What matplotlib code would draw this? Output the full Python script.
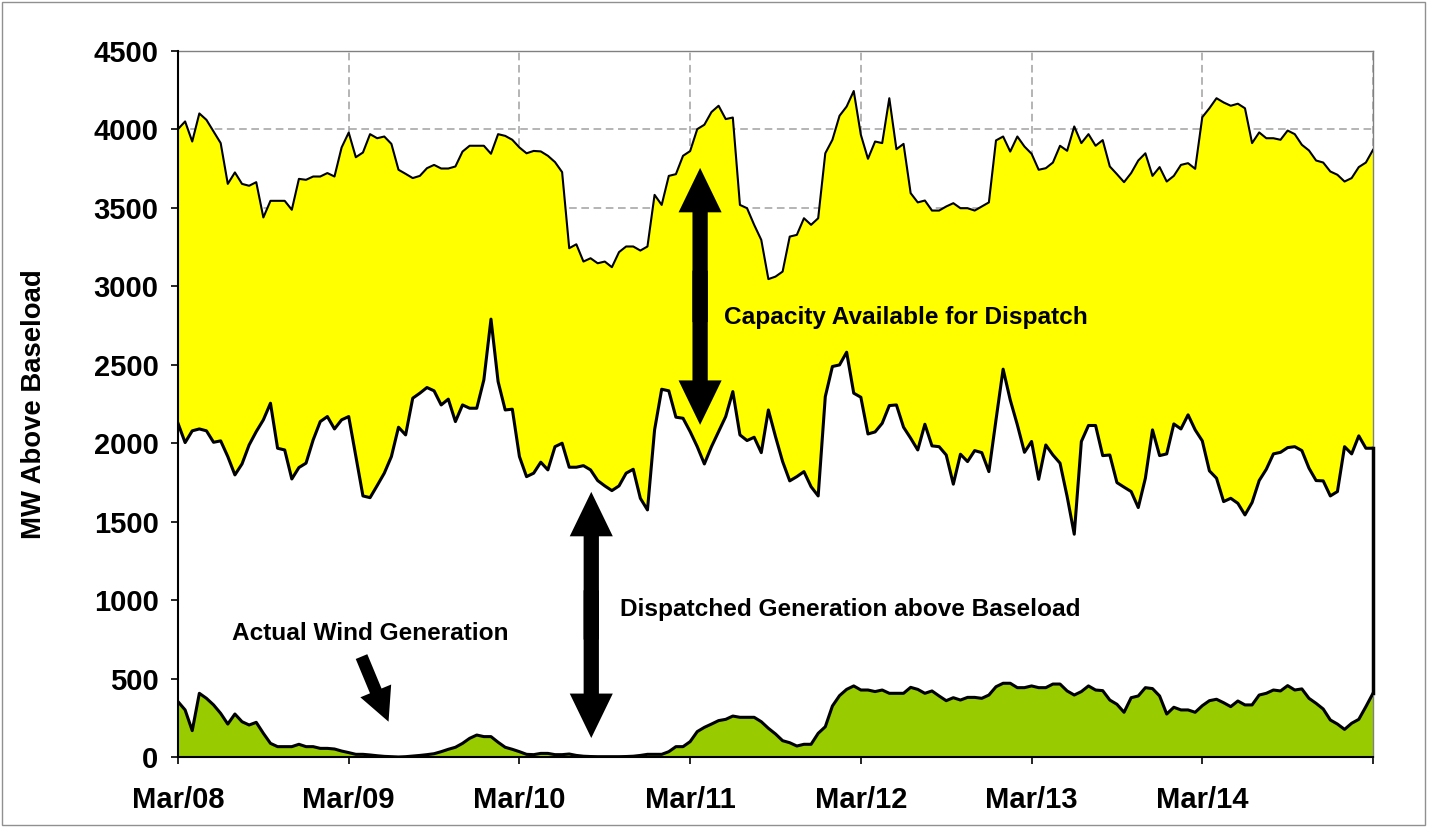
import numpy as np
import matplotlib
matplotlib.use("Agg")
import matplotlib.pyplot as plt
from matplotlib.patches import Rectangle


# hourly values, Mar/08 00:00 .. Mar/15 00:00 (MW above baseload)
upper_capacity = [
    4002, 4051, 3923, 4102, 4061, 3987, 3913, 3653, 3726, 3653, 3641, 3664,
    3439, 3545, 3545, 3545, 3488, 3685, 3679, 3700, 3700, 3722, 3700, 3885,
    3980, 3823, 3853, 3970, 3944, 3955, 3908, 3743, 3717, 3690, 3704, 3753,
    3774, 3751, 3751, 3764, 3859, 3896, 3896, 3896, 3845, 3970, 3959, 3934,
    3885, 3848, 3863, 3860, 3832, 3792, 3728, 3243, 3268, 3158, 3179, 3147,
    3158, 3122, 3218, 3254, 3254, 3228, 3254, 3583, 3519, 3704, 3715, 3832,
    3862, 4002, 4030, 4111, 4151, 4066, 4076, 3519, 3498, 3392, 3296, 3046,
    3062, 3094, 3317, 3328, 3434, 3392, 3434, 3848, 3934, 4087, 4146, 4245,
    3966, 3813, 3923, 3913, 4199, 3874, 3908, 3594, 3535, 3547, 3483, 3483,
    3509, 3530, 3498, 3498, 3483, 3509, 3535, 3930, 3955, 3859, 3955, 3891,
    3845, 3743, 3753, 3789, 3896, 3864, 4019, 3913, 3970, 3896, 3932, 3764,
    3715, 3664, 3722, 3802, 3848, 3704, 3760, 3668, 3704, 3774, 3785, 3749,
    4078, 4135, 4199, 4172, 4151, 4164, 4135, 3913, 3981, 3944, 3944, 3934,
    3993, 3970, 3902, 3866, 3802, 3789, 3732, 3711, 3668, 3690, 3760, 3789,
    3870,
]

dispatched = [
    2127, 2004, 2079, 2091, 2079, 2006, 2015, 1915, 1798, 1868, 1989, 2074,
    2149, 2255, 1968, 1957, 1772, 1845, 1873, 2021, 2138, 2170, 2091, 2149,
    2170, 1915, 1664, 1653, 1730, 1809, 1915, 2102, 2053, 2287, 2319, 2355,
    2334, 2244, 2281, 2138, 2244, 2223, 2223, 2404, 2791, 2393, 2212, 2217,
    1915, 1787, 1809, 1879, 1830, 1978, 2000, 1847, 1847, 1857, 1830, 1762,
    1728, 1698, 1728, 1809, 1834, 1649, 1575, 2085, 2344, 2334, 2166, 2159,
    2074, 1978, 1868, 1978, 2074, 2170, 2329, 2053, 2017, 2038, 1940, 2212,
    2042, 1883, 1760, 1787, 1819, 1723, 1664, 2297, 2489, 2499, 2580, 2319,
    2293, 2059, 2072, 2127, 2240, 2244, 2102, 2032, 1957, 2121, 1983, 1978,
    1925, 1739, 1930, 1883, 1953, 1940, 1819, 2149, 2472, 2276, 2117, 1942,
    2011, 1770, 1989, 1925, 1873, 1660, 1420, 2011, 2113, 2113, 1921, 1925,
    1749, 1720, 1692, 1590, 1777, 2085, 1921, 1932, 2123, 2091, 2181, 2085,
    2015, 1824, 1777, 1628, 1649, 1617, 1543, 1622, 1762, 1834, 1932, 1942,
    1972, 1978, 1953, 1841, 1762, 1760, 1664, 1692, 1978, 1932, 2047, 1968,
    1968,
]

wind = [
    353, 300, 168, 406, 374, 332, 278, 210, 274, 225, 204, 221,
    151, 87, 66, 66, 66, 81, 66, 66, 55, 55, 51, 38,
    28, 17, 17, 13, 8, 4, 2, 0, 2, 6, 10, 15,
    21, 34, 49, 62, 87, 119, 140, 130, 130, 94, 62, 49,
    34, 17, 15, 23, 23, 15, 15, 19, 10, 5, 3, 2,
    2, 2, 2, 3, 5, 10, 17, 17, 17, 34, 66, 66,
    98, 162, 189, 210, 232, 240, 261, 253, 253, 253, 225, 183,
    147, 104, 91, 70, 81, 81, 151, 193, 325, 391, 431, 453,
    427, 427, 417, 427, 406, 406, 406, 444, 431, 406, 421, 389,
    359, 378, 363, 380, 380, 374, 395, 448, 470, 470, 442, 442,
    453, 442, 442, 465, 465, 421, 395, 417, 453, 427, 423, 363,
    336, 285, 378, 389, 442, 436, 389, 274, 317, 300, 300, 285,
    327, 359, 368, 346, 321, 357, 332, 332, 395, 406, 427, 421,
    455, 427, 434, 374, 342, 306, 236, 210, 176, 215, 240, 321,
    406,
]

day_labels = ["Mar/08", "Mar/09", "Mar/10", "Mar/11", "Mar/12", "Mar/13", "Mar/14"]

FONT = "Liberation Sans"


def double_arrow(ax, x, y_low, y_high):
    mid = (y_low + y_high) / 2
    overlap = (y_high - y_low) * 0.1
    style = "simple,head_length=32,head_width=31,tail_width=11"
    # two one-headed arrows from the middle, overlapping a bit so no seam shows
    for end, start in ((y_low, mid + overlap), (y_high, mid - overlap)):
        ax.annotate("", xy=(x, end), xytext=(x, start),
                    arrowprops=dict(arrowstyle=style, mutation_scale=1,
                                    fc="black", ec="black", lw=0,
                                    shrinkA=0, shrinkB=0),
                    zorder=6)


def main():
    hours = np.arange(len(upper_capacity))

    fig = plt.figure(figsize=(14.3, 8.27), dpi=100)
    ax = fig.add_axes([178 / 1430, 1 - 757 / 827, 1195 / 1430, 706 / 827])

    # areas: wind (green), dispatched (white), capacity (yellow)
    ax.fill_between(hours, 0, wind, color="#99CC00", lw=0, zorder=2)
    ax.fill_between(hours, wind, dispatched, color="white", lw=0, zorder=2)
    ax.fill_between(hours, dispatched, upper_capacity, color="#FFFF00", lw=0, zorder=2)

    ax.plot(hours, upper_capacity, color="black", lw=1.5, zorder=3)
    ax.plot(hours, dispatched, color="black", lw=2.2, zorder=3)
    ax.plot(hours, wind, color="black", lw=2.2, zorder=3)
    ax.plot([hours[-1], hours[-1]], [wind[-1], dispatched[-1]],
            color="black", lw=2.5, zorder=5, clip_on=False)

    ax.set_xlim(0, hours[-1])
    ax.set_ylim(0, 4500)
    ax.set_yticks(np.arange(0, 4501, 500))
    ax.set_xticks(np.arange(0, 169, 24))
    ax.set_xticklabels(day_labels + [""])

    ax.grid(True, color="#a0a0a0", ls=(0, (5, 3)), lw=1.1, zorder=0)
    ax.set_axisbelow(True)

    for side in ("top", "right"):
        ax.spines[side].set_color("#808080")
        ax.spines[side].set_linewidth(1.0)
    for side in ("left", "bottom"):
        ax.spines[side].set_color("black")
        ax.spines[side].set_linewidth(1.5)
        ax.spines[side].set_zorder(4)

    ax.tick_params(axis="both", direction="out", length=5, width=1.2, color="black")
    ax.tick_params(axis="x", pad=16)
    ax.tick_params(axis="y", pad=9)
    for lab in ax.get_xticklabels() + ax.get_yticklabels():
        lab.set_fontfamily(FONT)
        lab.set_fontweight("bold")
        lab.set_fontsize(21)

    ax.set_ylabel("MW Above Baseload", fontfamily=FONT, fontweight="bold", fontsize=19.8)
    ax.yaxis.set_label_coords(-0.11, 0.5)

    # annotations
    text_kw = dict(fontfamily=FONT, fontweight="bold", fontsize=17.6,
                   va="center", ha="left", zorder=7)
    ax.text(76.8, 2800, "Capacity Available for Dispatch", **text_kw)
    ax.text(62.2, 937, "Dispatched Generation above Baseload", **text_kw)
    ax.text(7.6, 784, "Actual Wind Generation", **text_kw)

    double_arrow(ax, 73.4, 2117, 3755)
    double_arrow(ax, 58.1, 121, 1690)

    ax.annotate("", xy=(29.6, 225), xytext=(25.8, 640),
                arrowprops=dict(arrowstyle="simple,head_length=24,head_width=24,tail_width=9",
                                mutation_scale=1, fc="black", ec="black", lw=0,
                                shrinkA=0, shrinkB=0),
                zorder=6)

    fig.patches.append(Rectangle((0.0015, 0.003), 0.995, 0.994, transform=fig.transFigure,
                                 fill=False, ec="#909090", lw=1.0))

    fig.savefig("out.png", dpi=100)


if __name__ == "__main__":
    main()
